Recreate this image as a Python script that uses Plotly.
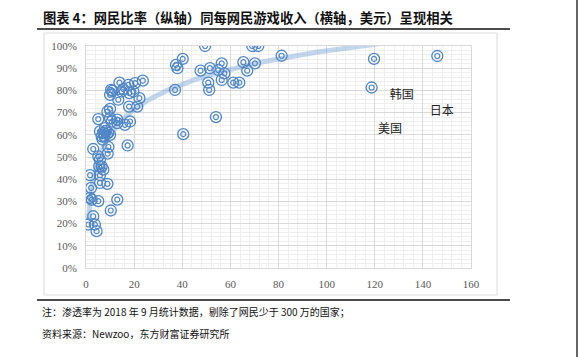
import numpy as np
import plotly.graph_objects as go

# Per-netizen game revenue (USD) -- x axis
income = [0.97, 3.0, 3.7, 4.4, 1.7, 2.4, 5.1, 2.1, 1.7, 3.0, 5.1, 5.8, 5.5, 6.5, 5.8, 5.8, 8.9, 13.0,
          10.3, 9.3, 9.0, 5.1, 5.8, 6.5, 6.9, 7.2, 7.9, 10.0, 8.9, 10.0, 10.0, 10.7, 13.0, 13.0, 16.2,
          18.3, 17.3, 10.0, 10.4, 11.0, 13.9, 13.4, 14.8, 15.5, 18.0, 17.6, 17.9, 20.4, 21.3, 22.2,
          23.6, 19.7, 37.0, 37.4, 38.0, 40.2, 40.4, 49.5, 47.6, 50.8, 51.2, 51.5, 54.0, 55.0, 56.4,
          56.4, 57.5, 61.2, 63.7, 65.4, 67.0, 70.2, 69.1, 71.6, 81.3, 119.7, 118.7, 146.0,
          7.5, 8.2, 9.3, 7.2]
# Netizen penetration ratio -- y axis
ratio = [19.6, 23.3, 19.6, 16.6, 31.6, 30.8, 30.1, 36.1, 41.8, 53.6, 50.3, 48.8, 45.8, 45.8, 41.8, 38.3,
         37.9, 30.8, 25.9, 54.5, 51.5, 67.1, 61.5, 59.3, 57.8, 60.8, 63.0, 60.0, 70.5, 71.7, 67.5, 66.0,
         66.8, 65.3, 64.5, 66.0, 55.2, 78.0, 80.2, 79.8, 83.5, 75.8, 79.5, 80.6, 78.8, 82.5, 72.7, 83.3,
         72.7, 76.5, 84.4, 79.5, 80.2, 91.5, 90.0, 94.2, 60.3, 100.0, 88.9, 83.5, 80.2, 90.0, 68.0, 89.2,
         92.2, 84.7, 87.7, 83.5, 83.5, 92.7, 88.9, 92.2, 100.0, 100.0, 95.6, 94.2, 81.3, 95.5,
         59.5, 61.8, 60.8, 44.3]

label_text = ["韩国", "日本", "美国"]
label_x = [131.2, 147.8, 126.3]
label_y = [77.6, 70.1, 62.0]

x_ticks = [0, 20, 40, 60, 80, 100, 120, 140, 160]
y_ticks = [0, 10, 20, 30, 40, 50, 60, 70, 80, 90, 100]

xa = np.array(income)
ya = np.array(ratio) / 100.0

# logarithmic trend line fitted to the data
b, a = np.polyfit(np.log(xa), ya, 1)
tx = np.linspace(xa.min(), xa.max(), 300)
ty = a + b * np.log(tx)

blue = "#4f86c6"
fig = go.Figure()
fig.add_trace(go.Scatter(x=tx, y=ty, mode="lines",
                         line=dict(color="rgba(120,165,215,0.45)", width=5),
                         hoverinfo="skip", showlegend=False))
fig.add_trace(go.Scatter(x=income, y=ya, mode="markers",
                         marker=dict(symbol="circle-open", size=11, color=blue, line=dict(width=1.3, color=blue)),
                         showlegend=False))
fig.add_trace(go.Scatter(x=income, y=ya, mode="markers",
                         marker=dict(symbol="circle-open", size=5, color=blue, line=dict(width=1.2, color=blue)),
                         showlegend=False))
fig.add_trace(go.Scatter(x=label_x, y=[v / 100 for v in label_y], mode="text", text=label_text,
                         textfont=dict(family="Noto Sans CJK SC", size=12, color="#222222"),
                         showlegend=False, hoverinfo="skip"))

L, R, T, B = 86, 107, 46, 89
W, H = 578, 357
pw, ph = W - L - R, H - T - B


def px_x(p):
    return (p - L) / pw


def px_y(p):
    return (H - B - p) / ph


shapes = [
    dict(type="rect", xref="paper", yref="paper", x0=px_x(44), x1=px_x(497), y0=px_y(295), y1=px_y(33),
         line=dict(color="#d9d9d9", width=1), layer="below"),
    dict(type="line", xref="paper", yref="paper", x0=px_x(37), x1=px_x(510), y0=px_y(29), y1=px_y(29),
         line=dict(color="#111111", width=1.5)),
    dict(type="line", xref="paper", yref="paper", x0=px_x(37), x1=px_x(510), y0=px_y(300), y1=px_y(300),
         line=dict(color="#111111", width=1.5)),
    dict(type="line", xref="paper", yref="paper", x0=px_x(577), x1=px_x(577), y0=px_y(0), y1=px_y(357),
         line=dict(color="#333333", width=1.5)),
]

annotations = [
    dict(text="<b>图表 4：网民比率（纵轴）同每网民游戏收入（横轴，美元）呈现相关</b>", xref="paper", yref="paper",
         x=px_x(41), y=px_y(17), xanchor="left", yanchor="middle", showarrow=False,
         font=dict(family="Noto Sans CJK SC", size=13.3, color="#111111")),
    dict(text="注：渗透率为 2018 年 9 月统计数据，剔除了网民少于 300 万的国家；", xref="paper", yref="paper",
         x=px_x(40), y=px_y(311), xanchor="left", yanchor="middle", showarrow=False,
         font=dict(family="Noto Sans CJK SC", size=10, color="#111111")),
    dict(text="资料来源：Newzoo，东方财富证券研究所", xref="paper", yref="paper",
         x=px_x(40), y=px_y(333), xanchor="left", yanchor="middle", showarrow=False,
         font=dict(family="Noto Sans CJK SC", size=10, color="#111111")),
]

fig.update_layout(
    width=W, height=H, margin=dict(l=L, r=R, t=T, b=B, pad=0),
    paper_bgcolor="white", plot_bgcolor="white",
    shapes=shapes, annotations=annotations,
    xaxis=dict(range=[0, 160], tickvals=x_ticks, ticktext=[str(v) for v in x_ticks],
               showgrid=True, gridcolor="#d9d9d9", gridwidth=1, zeroline=False,
               showline=True, linecolor="#d9d9d9", mirror=True, ticks="",
               minor=dict(dtick=4, showgrid=True, gridcolor="#efefef", gridwidth=1),
               tickfont=dict(family="Liberation Serif", size=11, color="#595959"),
               ticklabelstandoff=6),
    yaxis=dict(range=[0, 1], tickvals=[v / 100 for v in y_ticks], ticktext=[f"{v}%" for v in y_ticks],
               showgrid=True, gridcolor="#d9d9d9", gridwidth=1, zeroline=False,
               showline=True, linecolor="#d9d9d9", mirror=True, ticks="",
               minor=dict(dtick=0.02, showgrid=True, gridcolor="#efefef", gridwidth=1),
               tickfont=dict(family="Liberation Serif", size=11, color="#595959"),
               ticklabelstandoff=6),
)

fig.write_html("out.html", config={"displayModeBar": False},
               post_script="document.body.style.margin='0';document.body.style.overflow='hidden';")
